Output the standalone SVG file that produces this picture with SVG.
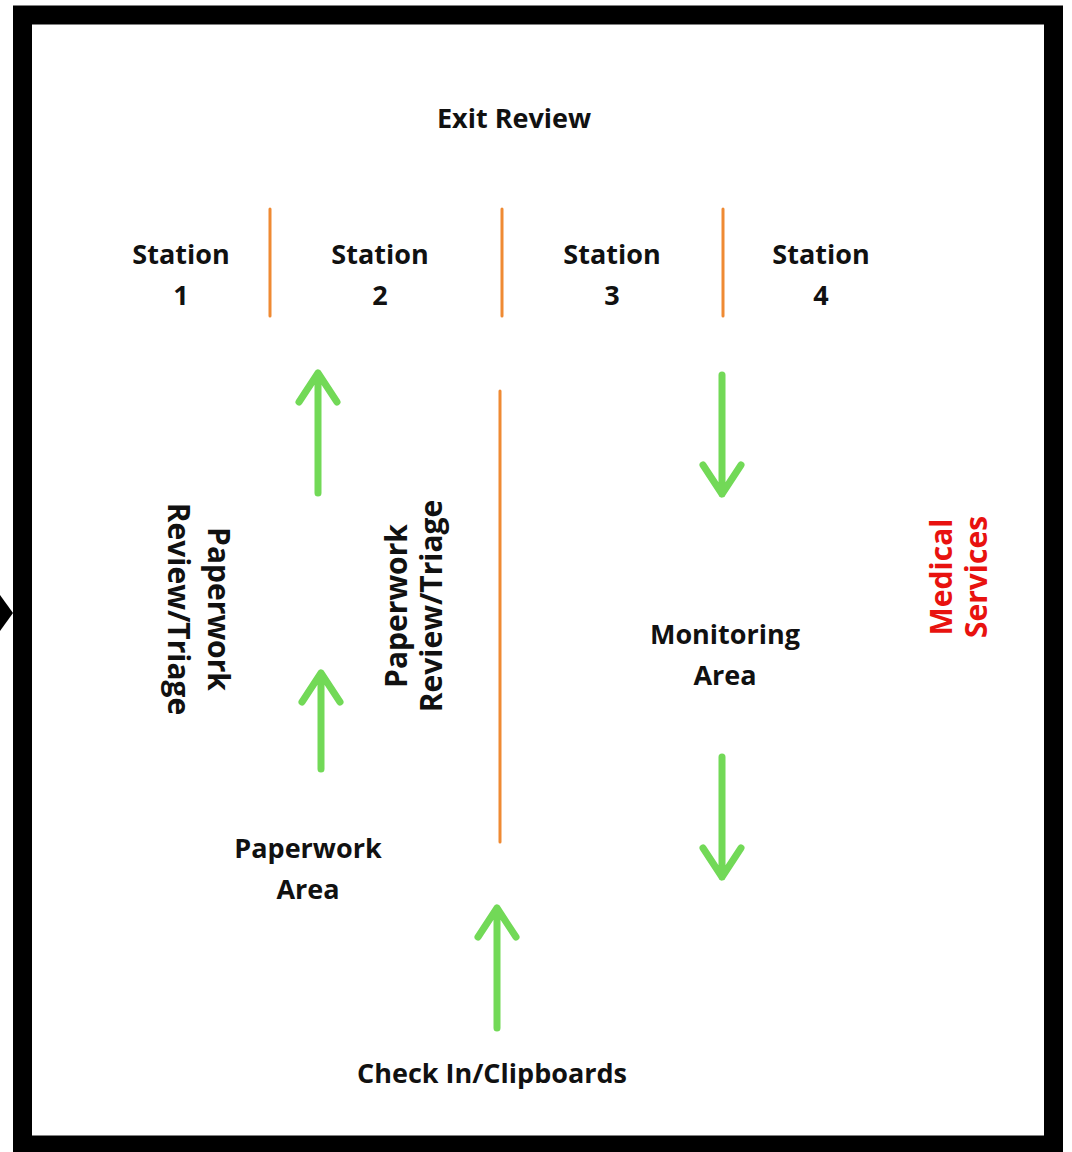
<svg xmlns="http://www.w3.org/2000/svg" width="1072" height="1152" viewBox="0 0 1072 1152">
<defs>
<style>
.t{font-family:"Open Sans","Liberation Sans",sans-serif;font-weight:700;font-size:27px;fill:#111;text-anchor:middle}
.r{font-size:30px}
.red{fill:#e8120f}
.div{stroke:#ef8a33;stroke-width:3;stroke-linecap:round;fill:none}
.arr{stroke:#72d957;stroke-width:7;stroke-linecap:round;stroke-linejoin:round;fill:none}
</style>
</defs>
<rect x="0" y="0" width="1072" height="1152" fill="#fff"/>
<g id="frame">
<rect x="22.5" y="15" width="1031" height="1130" fill="none" stroke="#000" stroke-width="19"/>
<polygon points="0,595 13,613 0,631" fill="#000"/>
</g>
<g id="exit-review"><text class="t" x="514" y="128">Exit Review</text></g>
<g id="station-1"><text class="t" x="181" y="264">Station</text><text class="t" x="181" y="305">1</text></g>
<g id="station-2"><text class="t" x="380" y="264">Station</text><text class="t" x="380" y="305">2</text></g>
<g id="station-3"><text class="t" x="612" y="264">Station</text><text class="t" x="612" y="305">3</text></g>
<g id="station-4"><text class="t" x="821" y="264">Station</text><text class="t" x="821" y="305">4</text></g>
<g id="paperwork-review-left" transform="translate(218,609) rotate(90)">
<text class="t r" x="0" y="10">Paperwork</text><text class="t r" x="0" y="50">Review/Triage</text>
</g>
<g id="paperwork-review-right" transform="translate(397,606) rotate(-90)">
<text class="t r" x="0" y="10">Paperwork</text><text class="t r" x="0" y="45">Review/Triage</text>
</g>
<g id="medical-services" transform="translate(942,577) rotate(-90)">
<text class="t r red" x="0" y="10">Medical</text><text class="t r red" x="0" y="45">Services</text>
</g>
<g id="monitoring-area"><text class="t" x="725" y="644">Monitoring</text><text class="t" x="725" y="685">Area</text></g>
<g id="paperwork-area"><text class="t" x="308" y="858">Paperwork</text><text class="t" x="308" y="899">Area</text></g>
<g id="check-in"><text class="t" x="492" y="1083">Check In/Clipboards</text></g>
<g id="dividers">
<line class="div" x1="270" y1="209" x2="270" y2="316"/>
<line class="div" x1="502" y1="209" x2="502" y2="316"/>
<line class="div" x1="723" y1="209" x2="723" y2="316"/>
<line class="div" x1="500" y1="391" x2="500" y2="842"/>
</g>
<g id="connectors">
<path class="arr" d="M318,493 V373 M299,402 L318,373 L337,402"/>
<path class="arr" d="M321,769 V673 M302,702 L321,673 L340,702"/>
<path class="arr" d="M722,375 V494 M703,465 L722,494 L741,465"/>
<path class="arr" d="M722,757 V877 M703,848 L722,877 L741,848"/>
<path class="arr" d="M497,1028 V908 M478,937 L497,908 L516,937"/>
</g>
</svg>
